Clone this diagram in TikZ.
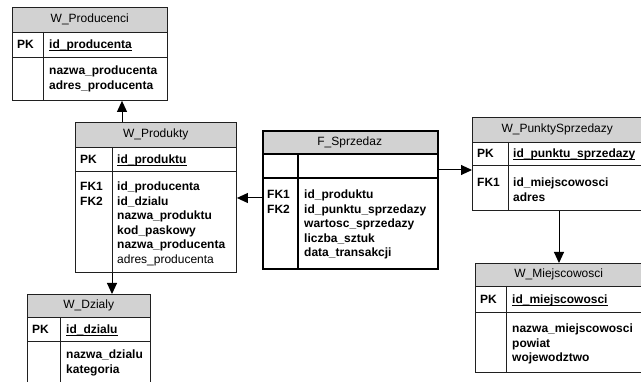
\documentclass[tikz,border=0pt]{standalone}
\usepackage{fontspec}
\setmainfont{Liberation Sans}
\usetikzlibrary{arrows.meta}

\definecolor{hdrgray}{HTML}{D2D2D2}
\definecolor{linec}{HTML}{202020}

% bold key name with a heavy underline
\newcommand\pkulbox[1]{\setbox0\hbox{#1}\rlap{\rule[-2.4pt]{\wd0}{1.1pt}}\box0}

\tikzset{
  tblbox/.style={draw=linec, line width=0.9pt, inner sep=0pt},
  facttbl/.style={draw=black, line width=2pt, inner sep=0pt},
  hdrbox/.style={fill=hdrgray, inner sep=0pt, font=\fontsize{12}{14.5}\selectfont},
  tblline/.style={draw=linec, line width=0.9pt},
  factline/.style={draw=black, line width=2pt},
  txt/.style={inner sep=0pt, font=\fontsize{12}{14.5}\selectfont\bfseries},
  fk/.style={draw=black, line width=1pt, -{Triangle[length=11pt,width=10pt]}}
}

% #1 name, #2 left, #3 top, #4 right, #5 bottom, #6 header bottom,
% #7 key row bottom, #8 column divider, #9 title
\newcommand\erdtable[9]{%
  \node[hdrbox, minimum width={#4-#2}, minimum height={#6-#3}, anchor=north west] (#1-h) at (#2,#3) {#9};
  \erdframe{#1}{#2}{#3}{#4}{#5}{#6}{#7}{#8}}
\newcommand\erdframe[8]{%
  \node[\tblstyle, minimum width={#4-#2}, minimum height={#5-#3}, anchor=north west] (#1) at (#2,#3) {};
  \draw[\linestyle] (#2,#6) -- (#4,#6);
  \draw[\linestyle] (#2,#7) -- (#4,#7);
  \draw[\linestyle] (#8,#6) -- (#8,#5);}
\newcommand\tblstyle{tblbox}
\newcommand\linestyle{tblline}

% #1 node prefix, #2 x, #3 first baseline, #4 lines
\newcommand\erdlines[4]{%
  \foreach \lbl [count=\i] in {#4}
    \node[txt, anchor=base west] (#1\i) at (#2, {#3+(\i-1)*14.5}) {\lbl};}

\begin{document}
\begin{tikzpicture}[x=1pt, y=-1pt]
  \useasboundingbox (0,0) rectangle (641,382);
  \clip (0,0) rectangle (641,382);
  \fill[white] (0,0) rectangle (641,382);

  % W_Producenci
  \erdtable{prodc}{12}{7}{167}{100}{32}{57}{43}{W\_Producenci}
  \erdlines{prodc-k}{17}{48.5}{PK}
  \erdlines{prodc-p}{49}{48.5}{\pkulbox{id\_producenta}}
  \erdlines{prodc-a}{49}{75}{nazwa\_producenta, adres\_producenta}

  % W_Produkty
  \erdtable{prod}{75}{122}{236}{272}{147}{171}{112}{W\_Produkty}
  \erdlines{prod-k}{80}{163.5}{PK}
  \erdlines{prod-p}{117}{163.5}{\pkulbox{id\_produktu}}
  \erdlines{prod-f}{80}{191}{FK1, FK2}
  \erdlines{prod-a}{117}{191}{id\_producenta, id\_dzialu, nazwa\_produktu,
    kod\_paskowy, nazwa\_producenta, {\mdseries adres\_producenta}}

  % W_Dzialy
  \erdtable{dzial}{27}{294}{150}{400}{317}{341}{60}{W\_Dzialy}
  \erdlines{dzial-k}{32}{333.5}{PK}
  \erdlines{dzial-p}{66}{333.5}{\pkulbox{id\_dzialu}}
  \erdlines{dzial-a}{66}{359}{nazwa\_dzialu, kategoria}

  % F_Sprzedaz
  \renewcommand\tblstyle{facttbl}\renewcommand\linestyle{factline}
  \erdtable{fact}{262}{130}{437}{268}{154}{178}{298}{F\_Sprzedaz}
  \renewcommand\tblstyle{tblbox}\renewcommand\linestyle{tblline}
  \erdlines{fact-f}{267}{199}{FK1, FK2}
  \erdlines{fact-a}{304}{199}{id\_produktu, id\_punktu\_sprzedazy,
    wartosc\_sprzedazy, liczba\_sztuk, data\_transakcji}

  % W_PunktySprzedazy
  \erdtable{punkt}{472}{117}{642}{210}{142}{165}{508}{W\_PunktySprzedazy}
  \erdlines{punkt-k}{477}{158}{PK}
  \erdlines{punkt-p}{513}{158}{\pkulbox{id\_punktu\_sprzedazy}}
  \erdlines{punkt-f}{477}{187}{FK1}
  \erdlines{punkt-a}{513}{187}{id\_miejscowosci, adres}

  % W_Miejscowosci
  \erdtable{miej}{475}{263}{642}{372}{286}{312}{506}{W\_Miejscowosci}
  \erdlines{miej-k}{480}{303.5}{PK}
  \erdlines{miej-p}{512}{303.5}{\pkulbox{id\_miejscowosci}}
  \erdlines{miej-a}{512}{333}{nazwa\_miejscowosci, powiat, wojewodztwo}

  % foreign key references
  \coordinate (c1) at (122,0);
  \coordinate (c2) at (0,198);
  \coordinate (c3) at (112,0);
  \coordinate (c4) at (0,170);
  \coordinate (c5) at (559,0);
  \draw[fk] (prod.north -| c1) -- (prodc.south -| c1);
  \draw[fk] (fact.west |- c2) -- (prod.east |- c2);
  \draw[fk] (prod.south -| c3) -- (dzial.north -| c3);
  \draw[fk] (fact.east |- c4) -- (punkt.west |- c4);
  \draw[fk] (punkt.south -| c5) -- (miej.north -| c5);
\end{tikzpicture}
\end{document}
